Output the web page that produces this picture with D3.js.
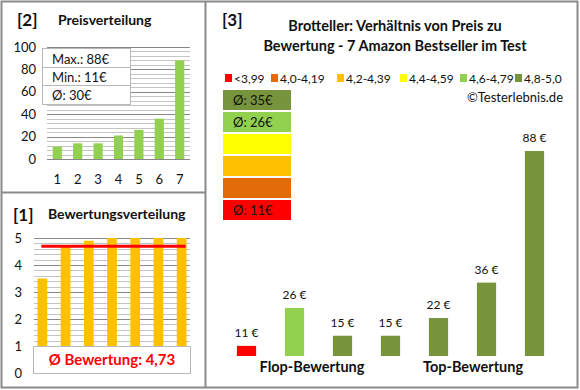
<!DOCTYPE html>
<html>
<head>
<meta charset="utf-8">
<script src="https://cdn.jsdelivr.net/npm/d3@7"></script>
<style>
  body { margin: 0; background: #fff; }
  text { font-family: Lato, "Open Sans", sans-serif; fill: #111; }
</style>
</head>
<body>
<div id="chart"></div>
<script>
// price distribution (sorted), panel [2]
var priceRanks = [1, 2, 3, 4, 5, 6, 7]
var priceDist = [11, 14, 14, 21, 26, 36, 88]
var priceTicks = [0, 20, 40, 60, 80, 100]
var priceStats = ["Max.: 88€", "Min.: 11€", "Ø: 30€"]

// rating distribution, panel [1]
var ratings = [3.5, 4.7, 4.9, 5, 5, 5, 5]
var ratingTicks = [0, 1, 2, 3, 4, 5]
var ratingAvg = 4.73

// panel [3]: products sorted by rating
var productPrices = [11, 26, 15, 15, 22, 36, 88]
var productColors = ["#ff0000", "#92d050", "#77933c", "#77933c", "#77933c", "#77933c", "#77933c"]
var legendLabels = ["<3,99", "4,0-4,19", "4,2-4,39", "4,4-4,59", "4,6-4,79", "4,8-5,0"]
var legendColors = ["#ff0000", "#e26b0a", "#ffc000", "#ffff00", "#92d050", "#77933c"]
var avgBoxColors = ["#77933c", "#92d050", "#ffff00", "#ffc000", "#e26b0a", "#ff0000"]
var avgBoxLabels = ["Ø: 35€", "Ø: 26€", "", "", "", "Ø: 11€"]

var width = 580, height = 390
var svg = d3.select("#chart").append("svg")
    .attr("width", width)
    .attr("height", height)

// frame lines
svg.append("rect")
    .attr("x", 1.5).attr("y", 1.5)
    .attr("width", 576).attr("height", 386)
    .style("fill", "none").style("stroke", "#8a8a8a").style("stroke-width", 2)
svg.append("line").attr("x1", 205.5).attr("x2", 205.5).attr("y1", 1).attr("y2", 388)
    .style("stroke", "#8a8a8a").style("stroke-width", 2)
svg.append("line").attr("x1", 1).attr("x2", 205).attr("y1", 192.5).attr("y2", 192.5)
    .style("stroke", "#8a8a8a").style("stroke-width", 2)

// helper for excel style gridlines
function grid(g, yScale, x1, x2, minor, major, max) {
  for (var v = 0; v <= max + 1e-9; v += minor) {
    var isMajor = Math.abs(v / major - Math.round(v / major)) < 1e-6
    g.append("line")
      .attr("x1", x1).attr("x2", x2)
      .attr("y1", Math.round(yScale(v)) + 0.5).attr("y2", Math.round(yScale(v)) + 0.5)
      .style("stroke", isMajor ? "#888" : "#c4c4c4")
      .style("stroke-width", 1)
  }
}

// ---------- panel [2] Preisverteilung ----------
var p2 = svg.append("g")
p2.append("text").attr("x", 17).attr("y", 26).style("font-size", "17px").style("font-weight", "bold").text("[2]")
p2.append("text").attr("x", 58).attr("y", 25).style("font-size", "14px").style("font-weight", "bold").text("Preisverteilung")

var x2 = d3.scaleBand().domain(priceRanks).range([47, 190]).paddingInner(0.55).paddingOuter(0.28)
var y2 = d3.scaleLinear().domain([0, 100]).range([159, 47])

grid(p2, y2, 47, 190, 4, 20, 100)

p2.selectAll(".pbar").data(priceDist).enter().append("rect")
    .attr("class", "pbar")
    .attr("x", function(d, i) { return x2(priceRanks[i]) })
    .attr("width", x2.bandwidth())
    .attr("y", function(d) { return y2(d) })
    .attr("height", function(d) { return y2(0) - y2(d) })
    .style("fill", "#92d050")

p2.append("g")
    .attr("transform", "translate(36,0)")
    .call(d3.axisLeft(y2).tickValues(priceTicks).tickSize(0).tickPadding(0))
    .call(function(g) { g.select(".domain").remove() })
    .selectAll("text").style("font-size", "13px").style("font-family", "Lato").attr("fill", "#111")

p2.append("g")
    .attr("transform", "translate(0,170)")
    .call(d3.axisBottom(x2).tickSize(0).tickPadding(5))
    .call(function(g) { g.select(".domain").remove() })
    .selectAll("text").style("font-size", "13px").style("font-family", "Lato").attr("fill", "#111")

// stats box
p2.append("rect").attr("x", 42.5).attr("y", 48.5).attr("width", 88).attr("height", 56)
    .style("fill", "#fff").style("stroke", "#b8b8b8")
p2.append("line").attr("x1", 43).attr("x2", 130).attr("y1", 67.5).attr("y2", 67.5).style("stroke", "#b8b8b8")
p2.append("line").attr("x1", 43).attr("x2", 130).attr("y1", 85.5).attr("y2", 85.5).style("stroke", "#b8b8b8")
p2.selectAll(".stat").data(priceStats).enter().append("text")
    .attr("class", "stat")
    .attr("x", 52)
    .attr("y", function(d, i) { return 64 + i * 18 })
    .style("font-size", "13px")
    .text(function(d) { return d })

// ---------- panel [1] Bewertungsverteilung ----------
var p1 = svg.append("g")
p1.append("text").attr("x", 13).attr("y", 221).style("font-size", "17px").style("font-weight", "bold").text("[1]")
p1.append("text").attr("x", 48).attr("y", 219).style("font-size", "14px").style("font-weight", "bold").text("Bewertungsverteilung")

var x1 = d3.scaleBand().domain(d3.range(ratings.length)).range([34, 190]).paddingInner(0.58).paddingOuter(0.15)
var y1 = d3.scaleLinear().domain([0, 5]).range([373, 238])

grid(p1, y1, 34, 190, 0.2, 1, 5)

p1.selectAll(".rbar").data(ratings).enter().append("rect")
    .attr("class", "rbar")
    .attr("x", function(d, i) { return x1(i) })
    .attr("width", x1.bandwidth())
    .attr("y", function(d) { return y1(d) })
    .attr("height", function(d) { return y1(0) - y1(d) })
    .style("fill", "#ffc000")

p1.append("line")
    .attr("x1", x1(0) + x1.bandwidth() / 2 - 1).attr("x2", x1(6) + x1.bandwidth() / 2 + 4)
    .attr("y1", y1(ratingAvg) + 1).attr("y2", y1(ratingAvg) + 1)
    .style("stroke", "#ff0000").style("stroke-width", 3)

p1.append("rect")
    .attr("x", 33.5).attr("y", y1(1) + 0.5)
    .attr("width", 157).attr("height", y1(0) - y1(1))
    .style("fill", "#fff").style("stroke", "#b8b8b8")
p1.append("text")
    .attr("x", 112).attr("y", 365)
    .style("text-anchor", "middle").style("font-size", "15px").style("font-weight", "bold")
    .style("fill", "#ff0000")
    .text("Ø Bewertung: " + String(ratingAvg).replace(".", ","))

p1.append("g")
    .attr("transform", "translate(22,0)")
    .call(d3.axisLeft(y1).tickValues(ratingTicks).tickFormat(d3.format("d")).tickSize(0).tickPadding(0))
    .call(function(g) { g.select(".domain").remove() })
    .selectAll("text").style("font-size", "13px").style("font-family", "Lato").attr("fill", "#111")

// ---------- panel [3] Preis vs Bewertung ----------
var p3 = svg.append("g")
p3.append("text").attr("x", 222).attr("y", 26).style("font-size", "17px").style("font-weight", "bold").text("[3]")
p3.append("text").attr("x", 395).attr("y", 31).style("text-anchor", "middle")
    .style("font-size", "14.5px").style("font-weight", "bold").text("Brotteller: Verhältnis von Preis zu")
p3.append("text").attr("x", 395).attr("y", 51).style("text-anchor", "middle")
    .style("font-size", "14.5px").style("font-weight", "bold").text("Bewertung - 7 Amazon Bestseller im Test")

// legend
var legendX = [225, 271, 337, 400, 460, 515]
var leg = p3.selectAll(".leg").data(legendLabels).enter().append("g")
    .attr("class", "leg")
    .attr("transform", function(d, i) { return "translate(" + legendX[i] + ",74)" })
leg.append("rect").attr("width", 7).attr("height", 8)
    .style("fill", function(d, i) { return legendColors[i] })
leg.append("text").attr("x", 9).attr("y", 8.5).style("font-size", "12px").text(function(d) { return d })

p3.append("text").attr("x", 563).attr("y", 102).style("text-anchor", "end").style("font-size", "13px").text("©Testerlebnis.de")

// average boxes
var boxes = p3.selectAll(".avg").data(avgBoxLabels).enter().append("g")
    .attr("class", "avg")
    .attr("transform", function(d, i) { return "translate(223," + (90 + i * 22) + ")" })
boxes.append("rect").attr("width", 68).attr("height", 20)
    .style("fill", function(d, i) { return avgBoxColors[i] })
boxes.append("text").attr("x", 10).attr("y", 15).style("font-size", "13px").text(function(d) { return d })

// bars
var x3 = d3.scaleBand().domain(d3.range(productPrices.length)).range([222.5, 558.5]).paddingInner(0.6).paddingOuter(0.3)
var y3 = d3.scaleLinear().domain([7, 88]).range([356, 151])

p3.selectAll(".bar3").data(productPrices).enter().append("rect")
    .attr("class", "bar3")
    .attr("x", function(d, i) { return x3(i) })
    .attr("width", x3.bandwidth())
    .attr("y", function(d) { return y3(d) })
    .attr("height", function(d) { return y3(7) - y3(d) })
    .style("fill", function(d, i) { return productColors[i] })

p3.selectAll(".lab3").data(productPrices).enter().append("text")
    .attr("class", "lab3")
    .attr("x", function(d, i) { return x3(i) + x3.bandwidth() / 2 })
    .attr("y", function(d) { return y3(d) - 9 })
    .style("text-anchor", "middle").style("font-size", "12px")
    .text(function(d) { return d + " €" })

p3.append("text").attr("x", 312).attr("y", 372).style("text-anchor", "middle")
    .style("font-size", "14.5px").style("font-weight", "bold").text("Flop-Bewertung")
p3.append("text").attr("x", 473).attr("y", 372).style("text-anchor", "middle")
    .style("font-size", "14.5px").style("font-weight", "bold").text("Top-Bewertung")
</script>
</body>
</html>
